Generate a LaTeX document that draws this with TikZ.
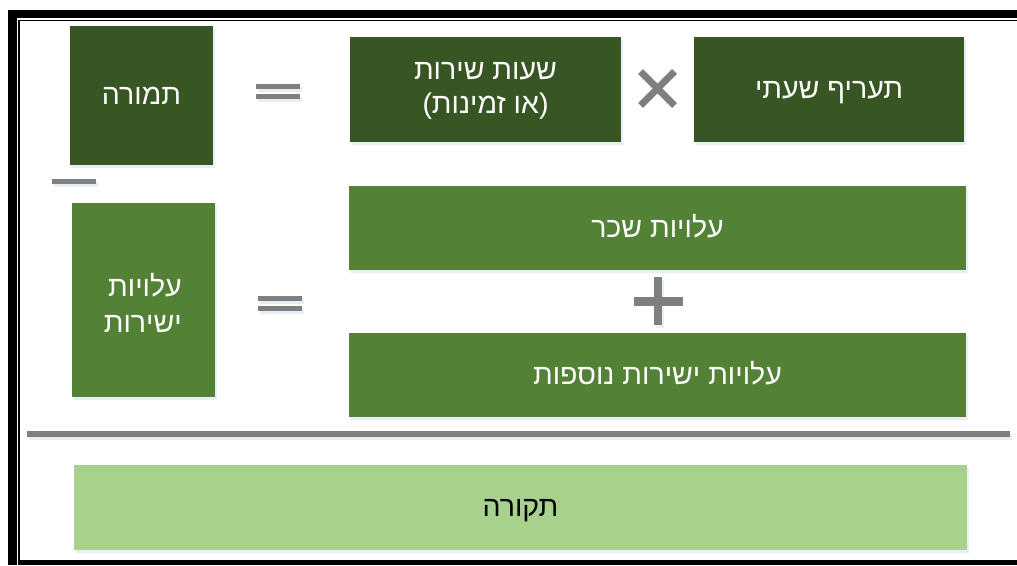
\documentclass[tikz,border=0pt]{standalone}
\usepackage{fontspec}
\usetikzlibrary{shadows}
\newfontfamily\heb[Script=Hebrew]{Liberation Sans}
\TeXXeTstate=1
\definecolor{dkgreen}{HTML}{375623}
\definecolor{mdgreen}{HTML}{538135}
\definecolor{ltgreen}{HTML}{A9D18E}
\definecolor{opgray}{HTML}{7F7F7F}
\definecolor{shadowblue}{HTML}{D5E2F3}
\begin{document}
\begin{tikzpicture}[x=1pt,y=-1pt,
  glow/.style={drop shadow={fill=shadowblue,opacity=0.6,shadow xshift=1.5pt,shadow yshift=-2.5pt}},
  box/.style={inner sep=0pt, glow, align=center, text=white,
    font=\heb\fontsize{28.5}{34}\selectfont},
  oneline/.style={text height=18pt, text depth=0pt},
  darkbox/.style={box, fill=dkgreen},
  midbox/.style={box, fill=mdgreen},
  lightbox/.style={box, fill=ltgreen, text=black},
  opbar/.style={fill=opgray, glow},
  frame/.style={fill=black}]
\useasboundingbox (0,0) rectangle (1017,565);
% frame
\fill[frame] (8,10) rectangle (17,565);
\fill[frame] (8,10) rectangle (1017,18);
\fill[frame] (18,19.5) rectangle (20,565);
\fill[frame] (18,19.5) rectangle (1017,21);
\fill[frame] (18,560) rectangle (1017,565);
% boxes
\node[darkbox, oneline, minimum width=143pt, minimum height=139pt] (tmura) at (141.5,95.5) {\beginR תמורה\endR};
\node[darkbox, minimum width=271pt, minimum height=105pt] (hours) at (485.5,89.5) {};
\node[inner sep=0pt, align=center, text=white, font=\heb\fontsize{28.5}{34}\selectfont] (hourstext) at (485.5,91) {\beginR שעות שירות\endR\\\beginR (או זמינות)\endR};
\node[darkbox, oneline, minimum width=270pt, minimum height=105pt] (rate) at (829,89.5) {\beginR תעריף שעתי\endR};
\node[midbox, minimum width=143pt, minimum height=194pt] (direct) at (143.5,300) {};
\node[anchor=east, inner sep=0pt, align=right, text=white, font=\heb\fontsize{28.5}{36}\selectfont] (directtext) at (182,303) {\beginR עלויות\endR\\\beginR ישירות\endR};
\node[midbox, oneline, minimum width=617pt, minimum height=84pt] (wage) at (657.5,228) {\beginR עלויות שכר\endR};
\node[midbox, oneline, minimum width=617pt, minimum height=84pt] (other) at (657.5,375) {\beginR עלויות ישירות נוספות\endR};
\node[lightbox, oneline, minimum width=893pt, minimum height=85pt] (overhead) at (520.5,507.5) {\beginR תקורה\endR};
% operators
\fill[opbar] (256,84) rectangle (300,89);
\fill[opbar] (256,94) rectangle (300,99);
\fill[opbar] (258,296) rectangle (302,301);
\fill[opbar] (258,306) rectangle (302,311);
\fill[opbar] (52,179) rectangle (96,184);
\draw[opgray, line width=7pt] (640.5,71.5) -- (674.5,105.5);
\draw[opgray, line width=7pt] (640.5,105.5) -- (674.5,71.5);
\fill[opbar] (654,277) rectangle (662,325);
\fill[opgray] (634,297) rectangle (683,306);
\fill[opbar] (27,431) rectangle (1010,437);
\end{tikzpicture}
\end{document}
